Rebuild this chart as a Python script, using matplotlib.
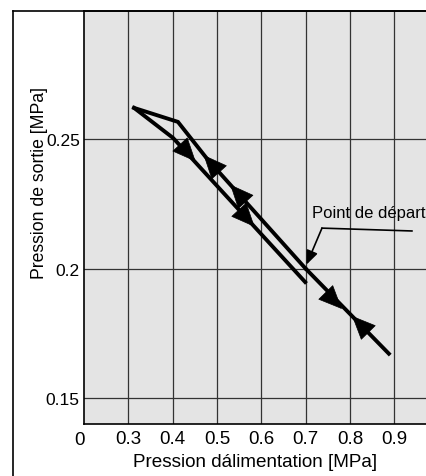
import matplotlib
matplotlib.use("Agg")
import matplotlib.pyplot as plt
from matplotlib.lines import Line2D

plt.rcParams['font.family'] = ['Liberation Sans', 'DejaVu Sans']

# ---- data ----
x_ticks = [0.3, 0.4, 0.5, 0.6, 0.7, 0.8, 0.9]
x_tick_labels = ["0.3", "0.4", "0.5", "0.6", "0.7", "0.8", "0.9"]
y_ticks = [0.15, 0.20, 0.25]
y_tick_labels = ["0.15", "0.2", "0.25"]

# outgoing branch from the starting point to max supply pressure
main_x = [0.700, 0.891]
main_y = [0.200, 0.1666]
# upper branch (decreasing supply pressure)
upper_x = [0.700, 0.478, 0.412, 0.313]
upper_y = [0.200, 0.2423, 0.2566, 0.2620]
# lower branch (increasing supply pressure)
lower_x = [0.313, 0.401, 0.699]
lower_y = [0.2620, 0.2504, 0.1948]

start_x, start_y = 0.700, 0.200

# arrow tips: (x, y, dx, dy) direction of travel
arrows = [
    (0.782, 0.1844, 0.191, -0.0334),
    (0.805, 0.1817, -0.191, 0.0334),
    (0.470, 0.2438, -0.222, 0.0423),
    (0.530, 0.2324, -0.222, 0.0423),
    (0.452, 0.2413, 0.298, -0.0556),
    (0.585, 0.2161, 0.298, -0.0556),
]

fig = plt.figure(figsize=(4.27, 4.77), dpi=100)
ax = fig.add_axes([84/427, 52/477, 1 - 84/427, (425-12)/477])
ax.set_facecolor('#e4e4e4')
ax.set_xlim(0.2, 0.974)
ax.set_ylim(0.14, 0.2994)

ax.set_xticks(x_ticks)
ax.set_xticklabels(x_tick_labels, fontsize=13.5)
ax.set_yticks(y_ticks)
ax.set_yticklabels(y_tick_labels, fontsize=12.5)
ax.tick_params(length=0, pad=3)
ax.tick_params(axis='x', pad=4)
ax.grid(True, color='#333333', lw=0.9)
ax.set_axisbelow(True)
for s in ['left', 'bottom', 'top']:
    ax.spines[s].set_color('black')
    ax.spines[s].set_linewidth(1.2)
ax.spines['right'].set_visible(False)

ax.text(-0.012, -0.018, "0", transform=ax.transAxes, fontsize=13.5,
        ha='center', va='top')

ax.set_xlabel("Pression dálimentation [MPa]", fontsize=13.6, labelpad=5)
ax.set_ylabel("Pression de sortie [MPa]", fontsize=12.7)
ax.yaxis.set_label_coords(-0.105, 0.586)

lw = 2.8
ax.plot(main_x, main_y, color='black', lw=lw, solid_capstyle='butt')
ax.plot(upper_x, upper_y, color='black', lw=lw, solid_joinstyle='miter')
ax.plot(lower_x, lower_y, color='black', lw=lw, solid_joinstyle='miter')

for (ax_, ay_, dx, dy) in arrows:
    k = 0.12
    ax.annotate("", xy=(ax_, ay_), xytext=(ax_ - k*dx, ay_ - k*dy),
                arrowprops=dict(arrowstyle="-|>,head_length=0.8,head_width=0.35",
                                mutation_scale=20, color='black', lw=0.5,
                                shrinkA=0, shrinkB=0))

# annotation "Point de départ"
ax.text(0.7147, 0.2215, "Point de départ", fontsize=12, ha='left', va='center')
ax.plot([0.940, 0.737], [0.2145, 0.2156], color='black', lw=1.2)
ax.annotate("", xy=(start_x + 0.002, start_y + 0.0015), xytext=(0.737, 0.2156),
            arrowprops=dict(arrowstyle="-|>,head_length=0.6,head_width=0.25",
                            mutation_scale=14, color='black', lw=1.2,
                            shrinkA=0, shrinkB=0))

# outer frame
fig.add_artist(Line2D([13/427, 13/427], [0, 465/477], color='black', lw=1.2,
                      transform=fig.transFigure))
fig.add_artist(Line2D([13/427, 1], [465/477, 465/477], color='black', lw=1.2,
                      transform=fig.transFigure))

fig.savefig("out.png", dpi=100, facecolor='white')
